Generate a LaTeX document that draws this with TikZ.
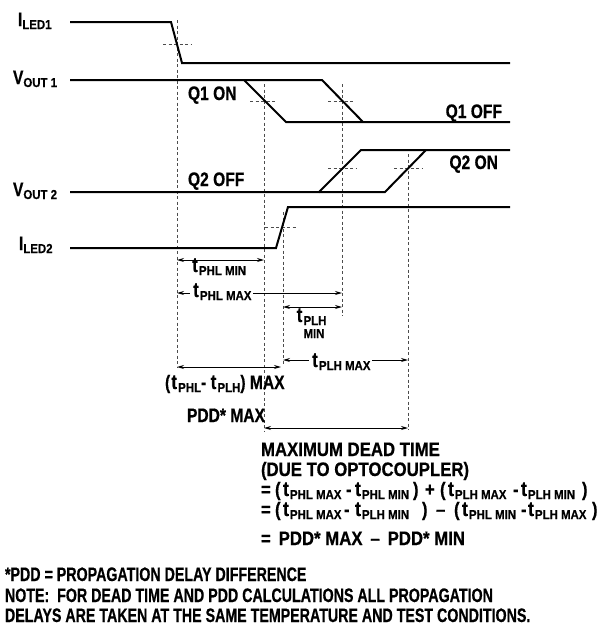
\documentclass[tikz,border=0pt]{standalone}
\usepackage{fontspec}
\setmainfont{Liberation Sans}[FakeStretch=0.8, BoldFeatures={FakeBold=0.5}]
\newfontfamily\blockfont{Liberation Sans}[FakeStretch=0.86, BoldFeatures={FakeBold=0.5}]
\newfontfamily\footfont{Liberation Sans}[FakeStretch=0.73, BoldFeatures={FakeBold=0.5}]
\newfontfamily\subfont{Liberation Sans}[FakeStretch=0.88, BoldFeatures={FakeBold=0.4}]
\usetikzlibrary{arrows.meta}
\newcommand\sbs[1]{\raisebox{-3pt}{\subfont\bfseries\fontsize{13}{13}\selectfont #1}}
\newcommand\pc[2]{\makebox[#1pt][l]{#2}}
\newcommand\tc{\makebox[8pt][c]{\fontsize{21}{21}\selectfont t}}
\tikzset{
  wave/.style={line width=2pt, line join=miter},
  guide/.style={line width=0.8pt, black!70, dash pattern=on 3pt off 2.5pt},
  dim/.style={line width=0.9pt, {Stealth[length=7pt,width=4pt]}-{Stealth[length=7pt,width=4pt]}},
  lbl/.style={font=\fontsize{19.5}{21}\selectfont\bfseries, inner sep=0pt, outer sep=0pt},
  blk/.style={lbl, font=\blockfont\fontsize{19.5}{21}\selectfont\bfseries},
  foot/.style={lbl, font=\footfont\fontsize{19.5}{21}\selectfont\bfseries},
  gap/.style={lbl, fill=white, inner xsep=2pt, inner ysep=1pt}
}
\begin{document}
\begin{tikzpicture}[x=1pt,y=-1pt]
\useasboundingbox (0,0) rectangle (601,627);
\fill[white] (0,0) rectangle (601,627);

% signal labels
\node[lbl, anchor=base west] (iled1) at (18,26) {I\sbs{LED1}};
\node[lbl, anchor=base west] (vout1) at (13,84) {V\sbs{OUT 1}};
\node[lbl, anchor=base west] (vout2) at (13,196) {V\sbs{OUT 2}};
\node[lbl, anchor=base west] (iled2) at (19,250) {I\sbs{LED2}};

% guide lines (vertical)
\draw[guide] (177,20) -- (177,367);
\draw[guide] (264,84) -- (264,432);
\draw[guide] (283,212) -- (283,365);
\draw[guide] (342,84) -- (342,316);
\draw[guide] (408,154) -- (408,430);
% crossing marks
\draw[guide] (163,44) -- (192,44);
\draw[guide] (250,101) -- (277,101);
\draw[guide] (328,101) -- (355,101);
\draw[guide] (328,168) -- (356,168);
\draw[guide] (394,168) -- (422,168);
\draw[guide] (265,227) -- (297,227);

% waveforms
\draw[wave] (70,22) -- (171,22) -- (182,63) -- (510,63);
\draw[wave] (70,80) -- (244,80) -- (286,122) -- (510,122);
\draw[wave] (244,80) -- (322,80) -- (363,122);
\draw[wave] (70,192) -- (319,192) -- (361,150) -- (510,150);
\draw[wave] (319,192) -- (385,192) -- (426,150);
\draw[wave] (70,248) -- (276,248) -- (288,207) -- (510,207);

% state labels
\node[lbl, anchor=base west] (q1on) at (188,100) {Q1 ON};
\node[lbl, anchor=base east] (q1off) at (502,118) {Q1 OFF};
\node[lbl, anchor=base east] (q2on) at (498,169) {Q2 ON};
\node[lbl, anchor=base west] (q2off) at (188,186) {Q2 OFF};

% dimension coordinates
\coordinate (a1) at (177,260); \coordinate (a2) at (264,260);
\coordinate (b1) at (177,293); \coordinate (b2) at (342,293);
\coordinate (c1) at (283,307); \coordinate (c2) at (342,307);
\coordinate (d1) at (283,360); \coordinate (d2) at (408,360);
\coordinate (e1) at (177,367); \coordinate (e2) at (281,367);
\coordinate (f1) at (264,428); \coordinate (f2) at (408,428);

\draw[dim] (a1) -- (a2);
\node[lbl, anchor=base west] (tphlmin) at (191,272) {\tc\sbs{PHL MIN}};

\draw[dim] (b1) -- (b2);
\node[gap, anchor=base west] (tphlmax) at (190,297) {\tc\sbs{PHL MAX}};

\draw[dim] (c1) -- (c2);
\node[lbl, anchor=base] (tplhmin) at (311,322) {\tc\sbs{PLH}};
\node[lbl, anchor=base, font=\subfont\bfseries\fontsize{13}{13}\selectfont] (tplhmin2) at (314,338) {MIN};

\draw[dim] (d1) -- (d2);
\node[gap, anchor=base west] (tplhmax) at (309,367) {\tc\sbs{PLH MAX}};

\draw[dim] (e1) -- (e2);
\node[lbl, anchor=base west] (diff) at (165,389) {(\tc\sbs{PHL}-\,\tc\sbs{PLH}) MAX};

\node[lbl, anchor=base east] (pddmax) at (265,422) {PDD* MAX};
\draw[dim] (f1) -- (f2);

% dead time block
\node[blk, anchor=base west] (m1) at (261,456) {MAXIMUM DEAD TIME};
\node[blk, anchor=base west] (m2) at (261,476) {(DUE TO OPTOCOUPLER)};
\node[blk, anchor=base west] (m3) at (261,496) {\pc{14}{=}\pc{7}{(}\tc\pc{56}{\sbs{PHL MAX}}\pc{8}{-}\tc\pc{51}{\sbs{PHL MIN}}\pc{12}{)}\pc{15}{+}\pc{7}{(}\tc\pc{58}{\sbs{PLH MAX}}\pc{7}{-}\tc\pc{54}{\sbs{PLH MIN}})};
\node[blk, anchor=base west] (m4) at (261,516) {\pc{14}{=}\pc{7}{(}\tc\pc{54}{\sbs{PHL MAX}}\pc{10}{-}\tc\pc{60}{\sbs{PLH MIN}}\pc{14}{)}\pc{18}{–}\pc{7}{(}\tc\pc{52}{\sbs{PHL MIN}}\pc{6}{-}\tc\pc{57}{\sbs{PLH MAX}})};
\node[blk, anchor=base west] (m5) at (261,545) {=\ \,PDD* MAX\ \,–\ \,PDD* MIN};

% footer
\node[foot, anchor=base west] (n1) at (5,581) {*PDD = PROPAGATION DELAY DIFFERENCE};
\node[foot, anchor=base west] (n2) at (5,602) {NOTE:\ \ FOR DEAD TIME AND PDD CALCULATIONS ALL PROPAGATION};
\node[foot, anchor=base west] (n3) at (5,622) {DELAYS ARE TAKEN AT THE SAME TEMPERATURE AND TEST CONDITIONS.};
\end{tikzpicture}
\end{document}
